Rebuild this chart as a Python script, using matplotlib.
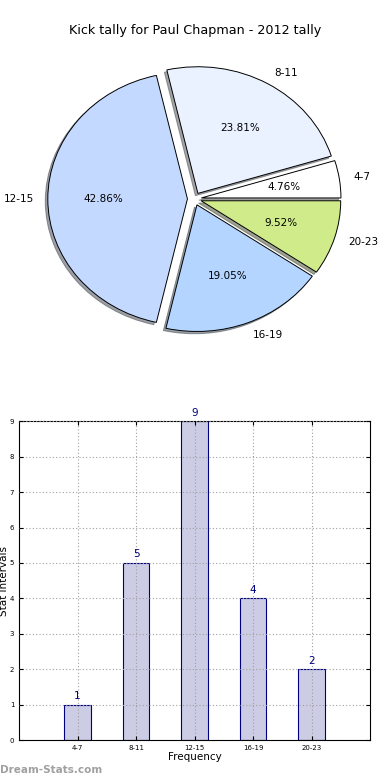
import numpy as np
import matplotlib.pyplot as plt

labels = ['4-7', '8-11', '12-15', '16-19', '20-23']
counts = [1, 5, 9, 4, 2]
pie_colors = ['#FFFFFF', '#EAF2FF', '#C4D9FF', '#B3D5FF', '#CFEB8A']

fig = plt.figure(figsize=(3.9, 7.8), dpi=100)

# pie
ax1 = fig.add_axes([0.051, 0.542, 0.895, 0.406])
wedges, texts, autotexts = ax1.pie(counts, labels=labels, colors=pie_colors,
                                   explode=[0.05] * len(counts),
                                   shadow={'ox': -0.013, 'oy': -0.013},
                                   autopct='%.2f%%', startangle=0,
                                   wedgeprops={'edgecolor': 'black', 'linewidth': 0.7},
                                   textprops={'fontsize': 7.5})
ax1.set_aspect('auto')
ax1.set_xlim(-1.25, 1.25)
ax1.set_ylim(-1.25, 1.25)
fig.text(0.5, 0.961, 'Kick tally for Paul Chapman - 2012 tally', ha='center', va='center', fontsize=9.2)

# bars
ax2 = fig.add_axes([0.049, 0.051, 0.9, 0.409])
x = np.arange(1, len(counts) + 1)
ax2.bar(x, counts, width=0.45, color='#CCCCE5', edgecolor='#000080', linewidth=0.8)
for xi, c in zip(x, counts):
    ax2.text(xi, c + 0.1, str(c), ha='center', va='bottom', color='#000080', fontsize=7.5)
ax2.set_xlim(0, 6)
ax2.set_ylim(0, 9)
ax2.set_xticks(x)
ax2.set_xticklabels(labels)
ax2.set_yticks(range(10))
ax2.tick_params(direction='in', labelsize=5, length=3, top=True, right=True)
ax2.set_axisbelow(False)
ax2.grid(True, linestyle=(0, (1, 2)), color='#A0A0A0', linewidth=0.8)
ax2.set_xlabel('Frequency', fontsize=7.5, labelpad=1)
ax2.set_ylabel('Stat Intervals', fontsize=7.5)
ax2.yaxis.set_label_coords(-0.028, 0.5)

fig.text(0.0, 0.013, 'Dream-Stats.com', fontsize=7.5, fontweight='bold', color='#A0A0A0', va='center')

plt.savefig('out.png', dpi=100)
